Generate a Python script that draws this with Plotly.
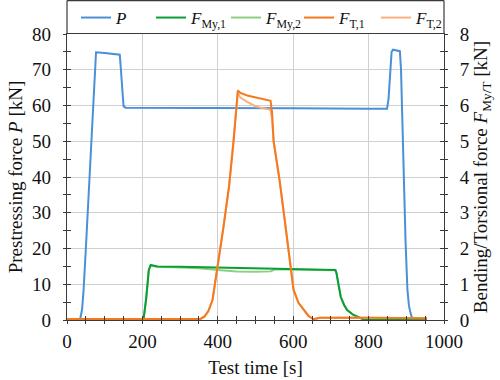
import plotly.graph_objects as go

# ---------------- data ----------------
t_P = [0, 35, 40, 44, 50, 59, 68, 77, 100, 120, 140, 143, 147, 150, 155, 200, 400, 600, 800, 849,
       853, 857, 861, 865, 875, 883, 886, 889, 894, 898, 903, 907, 911, 916, 955]
P = [0.3, 0.3, 3.0, 8.4, 20, 39, 57, 74.9, 74.7, 74.5, 74.2, 70, 62, 59.8, 59.4, 59.4, 59.3, 59.2, 59.1, 59.1,
     62, 70, 75, 75.6, 75.4, 75.2, 70, 56, 39, 22, 8.4, 4.0, 2.0, 0.3, 0.3]

t_My1 = [0, 203, 210, 217, 222, 240, 300, 400, 500, 600, 700, 712, 715, 718, 722, 726, 735, 743, 760, 778, 790, 955]
F_My1 = [0.02, 0.02, 0.6, 1.4, 1.54, 1.5, 1.49, 1.47, 1.45, 1.42, 1.40, 1.40, 1.3, 1.12, 0.85, 0.65, 0.42, 0.28, 0.14, 0.05, 0.0, 0.0]

t_My2 = [0, 203, 210, 217, 222, 240, 300, 350, 400, 450, 500, 540, 546, 552, 600, 700, 712, 715, 718, 722, 726, 735, 743, 760, 778, 790, 955]
F_My2 = [0.02, 0.02, 0.6, 1.4, 1.52, 1.49, 1.47, 1.45, 1.40, 1.36, 1.35, 1.36, 1.39, 1.41, 1.41, 1.40, 1.39, 1.3, 1.12, 0.85, 0.65, 0.42, 0.28, 0.14, 0.05, 0.0, 0.0]

t_T1 = [0, 354, 365, 375, 386, 394, 400, 415, 430, 442, 453, 460, 478, 500, 513, 540, 544, 548, 556, 564, 575,
        585, 595, 601, 614, 628, 640, 654, 670, 800, 955]
F_T1 = [0.03, 0.03, 0.1, 0.25, 0.56, 1.12, 1.47, 2.6, 3.75, 5.0, 6.42, 6.35, 6.28, 6.22, 6.19, 6.13, 5.8, 5.0, 4.45, 3.9, 3.0,
        2.1, 1.3, 0.84, 0.48, 0.28, 0.12, 0.02, 0.06, 0.06, 0.05]

t_T2 = [0, 354, 365, 375, 386, 394, 400, 415, 430, 442, 453, 460, 478, 500, 513, 540, 544, 548, 556, 564, 575,
        585, 595, 601, 614, 628, 640, 654, 670, 800, 955]
F_T2 = [0.03, 0.03, 0.1, 0.25, 0.56, 1.12, 1.47, 2.6, 3.75, 5.0, 6.35, 6.22, 6.10, 5.98, 5.94, 5.88, 5.6, 5.0, 4.45, 3.9, 3.0,
        2.1, 1.3, 0.84, 0.48, 0.28, 0.12, 0.02, 0.06, 0.06, 0.05]

x_range = [0, 1000]
yL_range = [0, 80]
yR_range = [0, 8]

C_P = "#4a90d9"
C_MY1 = "#0a9e36"
C_MY2 = "#8ccf7e"
C_T1 = "#f57a1f"
C_T2 = "#f9b07c"

FONT = "Liberation Serif, Times New Roman, serif"
AX = "#3a3a3a"
GRID = "#d0d0d0"

W, H = 500, 380
L, R, T, B = 67, 56, 34, 60
pw = W - L - R
ph = H - T - B

fig = go.Figure()
fig.add_trace(go.Scatter(x=t_P, y=P, mode="lines", name="<i>P</i>", line=dict(color=C_P, width=2),
                         legend="legend"))
fig.add_trace(go.Scatter(x=t_My2, y=F_My2, mode="lines", name="<i>F</i><sub>My,2</sub>",
                         line=dict(color=C_MY2, width=2), yaxis="y2", legend="legend3"))
fig.add_trace(go.Scatter(x=t_My1, y=F_My1, mode="lines", name="<i>F</i><sub>My,1</sub>",
                         line=dict(color=C_MY1, width=2), yaxis="y2", legend="legend2"))
fig.add_trace(go.Scatter(x=t_T2, y=F_T2, mode="lines", name="<i>F</i><sub>T,2</sub>",
                         line=dict(color=C_T2, width=2), yaxis="y2", legend="legend5"))
fig.add_trace(go.Scatter(x=t_T1, y=F_T1, mode="lines", name="<i>F</i><sub>T,1</sub>",
                         line=dict(color=C_T1, width=2), yaxis="y2", legend="legend4"))

tickfont = dict(family=FONT, size=19, color="#111")
common_tick = dict(ticks="outside", ticklen=3, tickwidth=1.2, tickcolor=AX)


def leg(px):
    return dict(orientation="h", x=(px - L) / pw, xanchor="left", y=1 + 16 / ph, yanchor="middle",
                bgcolor="rgba(0,0,0,0)", borderwidth=0,
                font=dict(family=FONT, size=17, color="#111"))


fig.update_layout(
    width=W, height=H, autosize=False,
    margin=dict(l=L, r=R, t=T, b=B, pad=0, autoexpand=False),
    paper_bgcolor="white", plot_bgcolor="white",
    font=dict(family=FONT, size=19, color="#111"),
    xaxis=dict(range=x_range, dtick=200, tick0=0, showgrid=True, gridcolor=GRID, gridwidth=1,
               zeroline=False, showline=True, linecolor=AX, linewidth=1.2, mirror=True,
               tickfont=tickfont, ticklabelstandoff=1,
               minor=dict(dtick=50, ticks="outside", ticklen=3, tickcolor=AX, tickwidth=1, showgrid=False),
               title=dict(text="Test time [s]", font=dict(family=FONT, size=19), standoff=9),
               **common_tick),
    yaxis=dict(range=yL_range, dtick=10, tick0=0, showgrid=True, gridcolor=GRID, gridwidth=1,
               zeroline=False, showline=True, linecolor=AX, linewidth=1.2, mirror=True,
               tickfont=tickfont, ticklabelstandoff=8,
               minor=dict(dtick=5, ticks="outside", ticklen=3, tickcolor=AX, tickwidth=1, showgrid=False),
               title=dict(text="Prestressing force <i>P</i> [kN]", font=dict(family=FONT, size=19), standoff=4),
               **common_tick),
    yaxis2=dict(range=yR_range, dtick=1, tick0=0, overlaying="y", side="right", anchor="x",
                showgrid=False, zeroline=False, showline=False,
                tickfont=tickfont, ticklabelstandoff=8,
                minor=dict(dtick=0.5, ticks="outside", ticklen=3, tickcolor=AX, tickwidth=1),
                title=dict(text="Bending/Torsional force <i>F</i><sub>My/T</sub> [kN]",
                           font=dict(family=FONT, size=19), standoff=2),
                **common_tick),
    # duplicate axes providing the inner half of the crossing tick marks
    xaxis3=dict(range=x_range, overlaying="x", anchor="y", side="bottom", dtick=200, tick0=0,
                ticks="inside", ticklen=4, tickwidth=1.2, tickcolor=AX, showticklabels=False,
                showgrid=False, zeroline=False, showline=False,
                minor=dict(dtick=50, ticks="inside", ticklen=4, tickcolor=AX, tickwidth=1)),
    yaxis3=dict(range=yL_range, overlaying="y", anchor="x", side="left", dtick=10, tick0=0,
                ticks="inside", ticklen=4, tickwidth=1.2, tickcolor=AX, showticklabels=False,
                showgrid=False, zeroline=False, showline=False,
                minor=dict(dtick=5, ticks="inside", ticklen=4, tickcolor=AX, tickwidth=1)),
    yaxis4=dict(range=yR_range, overlaying="y", anchor="x", side="right", dtick=1, tick0=0,
                ticks="inside", ticklen=4, tickwidth=1.2, tickcolor=AX, showticklabels=False,
                showgrid=False, zeroline=False, showline=False,
                minor=dict(dtick=0.5, ticks="inside", ticklen=4, tickcolor=AX, tickwidth=1)),
    legend=leg(76),
    legend2=leg(151),
    legend3=leg(226),
    legend4=leg(299),
    legend5=leg(376),
    showlegend=True,
)

# frame around the legend strip above the plot area
top = 1 + (T - 0.6) / ph
fig.add_shape(type="line", xref="paper", yref="paper", x0=0, x1=1, y0=top, y1=top,
              line=dict(color=AX, width=1.2))
fig.add_shape(type="line", xref="paper", yref="paper", x0=0, x1=0, y0=1, y1=top,
              line=dict(color=AX, width=1.2))
fig.add_shape(type="line", xref="paper", yref="paper", x0=1, x1=1, y0=1, y1=top,
              line=dict(color=AX, width=1.2))

# empty traces so the overlay tick axes are rendered
fig.add_trace(go.Scatter(x=[None], y=[None], xaxis="x3", yaxis="y3", showlegend=False, hoverinfo="skip"))
fig.add_trace(go.Scatter(x=[None], y=[None], xaxis="x3", yaxis="y4", showlegend=False, hoverinfo="skip"))

fig.write_html("out.html", config={"responsive": False, "displayModeBar": False},
               post_script="document.body.style.margin='0';document.body.style.padding='0';")
